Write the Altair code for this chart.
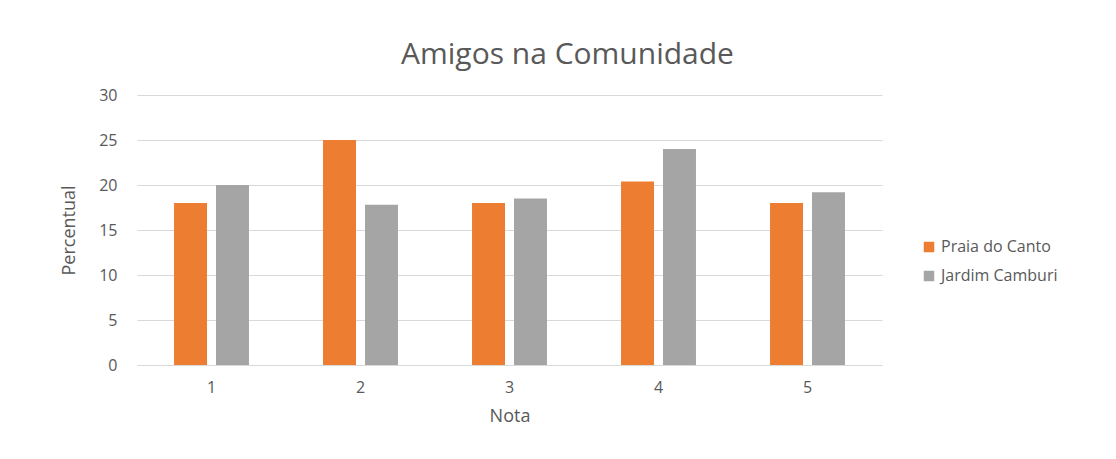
import altair as alt
import pandas as pd

notas = ["1", "2", "3", "4", "5"]
series = ["Praia do Canto", "Jardim Camburi"]
praia = [18.0, 25.0, 18.0, 20.4, 18.0]
jardim = [20.0, 17.8, 18.5, 24.0, 19.2]
colors = ["#ED7D31", "#A5A5A5"]

rows = []
for n, p, j in zip(notas, praia, jardim):
    rows.append({"Nota": n, "Serie": series[0], "Percentual": p})
    rows.append({"Nota": n, "Serie": series[1], "Percentual": j})
df = pd.DataFrame(rows)

FONT = "Open Sans"
TXT = "#595959"

chart = alt.Chart(df).mark_bar().encode(
    x=alt.X("Nota:N", sort=notas,
            scale=alt.Scale(paddingInner=0.497, paddingOuter=0.2485),
            axis=alt.Axis(title="Nota", labelAngle=0, ticks=False, domain=True,
                          domainColor="#D9D9D9", labelPadding=14, titlePadding=12,
                          labelFontSize=16, titleFontSize=18)),
    xOffset=alt.XOffset("Serie:N", sort=series,
                        scale=alt.Scale(paddingInner=0.2143, paddingOuter=0)),
    y=alt.Y("Percentual:Q", scale=alt.Scale(domain=[0, 30]),
            axis=alt.Axis(title="Percentual", values=[0, 5, 10, 15, 20, 25, 30],
                          ticks=False, domain=False, gridColor="#D9D9D9",
                          labelPadding=20, titlePadding=20,
                          labelFontSize=16, titleFontSize=18)),
    color=alt.Color("Serie:N", sort=series,
                    scale=alt.Scale(domain=series, range=colors),
                    legend=alt.Legend(title=None, orient="none", legendX=784, legendY=144,
                                      symbolType="square", symbolSize=110,
                                      symbolStrokeWidth=0,
                                      labelFontSize=16, rowPadding=13,
                                      labelColor=TXT, labelFont=FONT)),
).properties(
    width=745,
    height=270,
    title=alt.Title("Amigos na Comunidade", fontSize=30, font=FONT, color=TXT,
                    fontWeight="normal", anchor="middle", frame="group",
                    dx=58, offset=17),
    autosize=alt.AutoSizeParams(type="none"),
    padding={"left": 129, "top": 87, "right": 226, "bottom": 86},
).configure_axis(
    labelColor=TXT, titleColor=TXT, labelFont=FONT, titleFont=FONT,
    titleFontWeight="normal",
).configure_view(stroke=None)

chart.save("out.html", embed_options={"renderer": "svg", "actions": False})
